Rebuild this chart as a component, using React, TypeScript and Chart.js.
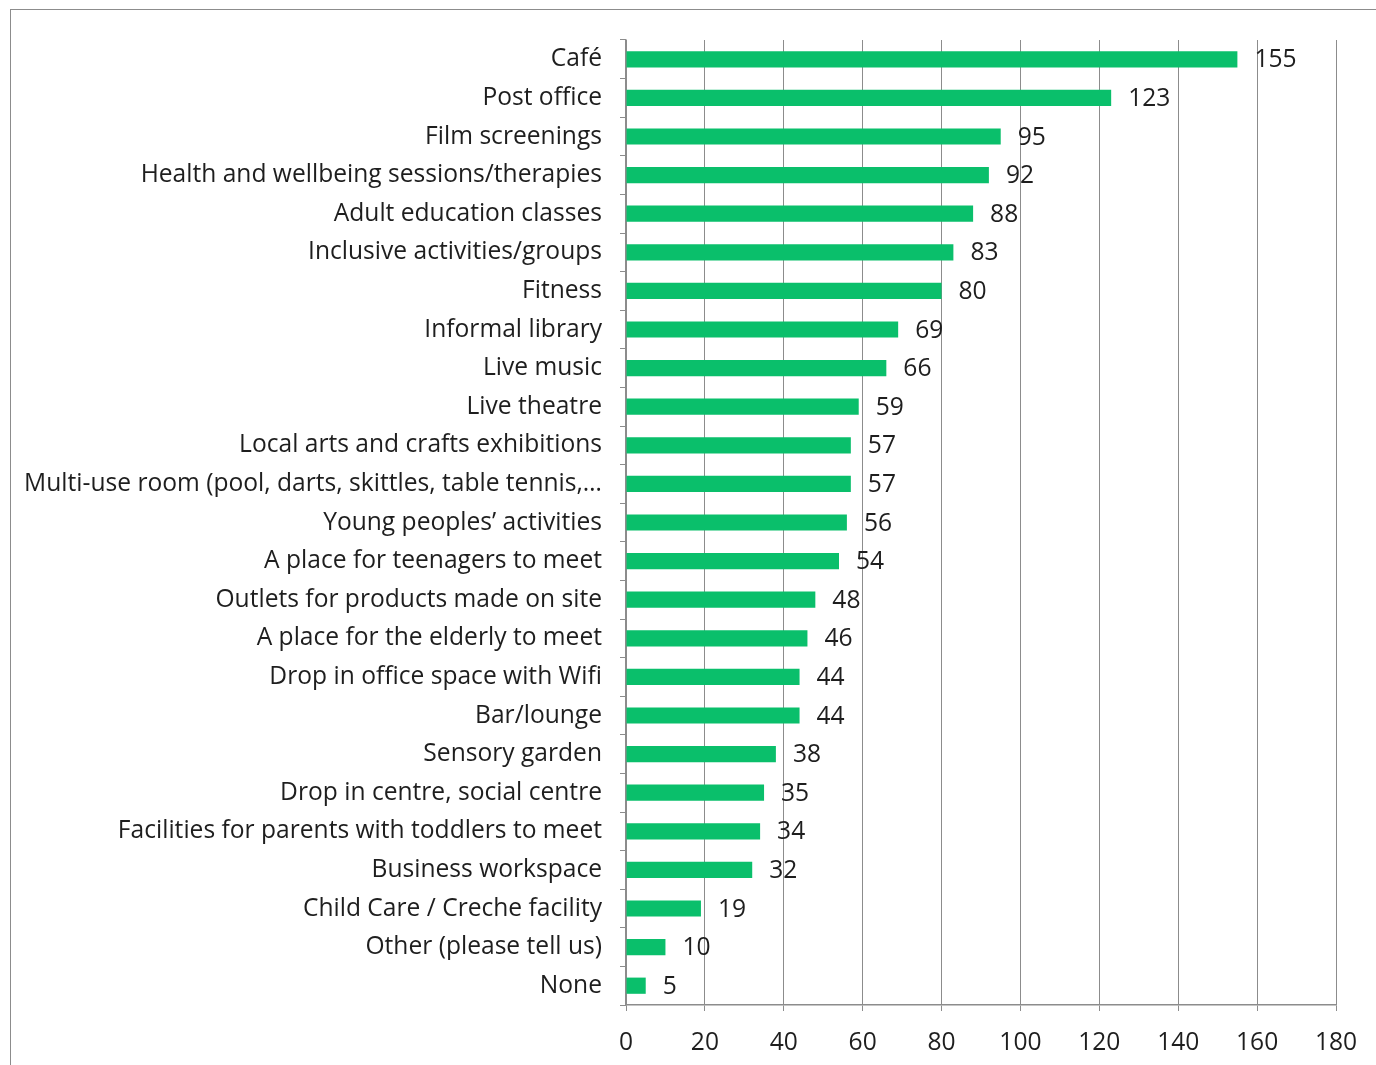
import React, { useEffect, useRef } from "react";
import { Chart, registerables } from "chart.js";

Chart.register(...registerables);

const categories = [
  "Café",
  "Post office",
  "Film screenings",
  "Health and wellbeing sessions/therapies",
  "Adult education classes",
  "Inclusive activities/groups",
  "Fitness",
  "Informal library",
  "Live music",
  "Live theatre",
  "Local arts and crafts exhibitions",
  "Multi-use room (pool, darts, skittles, table tennis,…",
  "Young peoples’ activities",
  "A place for teenagers to meet",
  "Outlets for products made on site",
  "A place for the elderly to meet",
  "Drop in office space with Wifi",
  "Bar/lounge",
  "Sensory garden",
  "Drop in centre, social centre",
  "Facilities for parents with toddlers to meet",
  "Business workspace",
  "Child Care / Creche facility",
  "Other (please tell us)",
  "None",
];

const values = [155, 123, 95, 92, 88, 83, 80, 69, 66, 59, 57, 57, 56, 54, 48, 46, 44, 44, 38, 35, 34, 32, 19, 10, 5];

const xMin = 0;
const xMax = 180;
const xStep = 20;

const FONT = "'Open Sans'";
const FONT_SIZE = 24.6;
const TEXT = "#1e1e1e";
const GRID = "#8c8c8c";
const GREEN = "#0abf6b";

const valueLabels = {
  id: "valueLabels",
  afterDatasetsDraw(chart: any) {
    const ctx = chart.ctx;
    const meta = chart.getDatasetMeta(0);
    ctx.save();
    ctx.font = `${FONT_SIZE}px ${FONT}`;
    ctx.fillStyle = TEXT;
    ctx.textAlign = "left";
    ctx.textBaseline = "middle";
    meta.data.forEach((el: any, i: number) => {
      ctx.fillText(String(values[i]), el.x + 17, el.y + 1);
    });
    ctx.restore();
  },
};

export default function App() {
  const ref = useRef<HTMLCanvasElement | null>(null);
  useEffect(() => {
    if (!ref.current) return;
    const chart = new Chart(ref.current, {
      type: "bar",
      data: {
        labels: categories,
        datasets: [
          {
            data: values,
            backgroundColor: GREEN,
            borderWidth: 0,
            categoryPercentage: 0.42,
            barPercentage: 1,
          },
        ],
      },
      options: {
        indexAxis: "y",
        animation: false,
        responsive: false,
        devicePixelRatio: 1,
        layout: { padding: { left: 0, right: 40, top: 40, bottom: 0 } },
        plugins: {
          legend: { display: false },
          tooltip: { enabled: false },
        },
        scales: {
          x: {
            min: xMin,
            max: xMax,
            ticks: {
              stepSize: xStep,
              color: TEXT,
              font: { family: FONT, size: FONT_SIZE },
              padding: 17,
              maxRotation: 0,
            },
            grid: {
              color: GRID,
              lineWidth: 1,
              tickLength: 6,
              tickColor: GRID,
            },
            border: { color: GRID, width: 1.5 },
            afterFit: (s: any) => {
              s.height = 60;
            },
          },
          y: {
            ticks: {
              color: TEXT,
              font: { family: FONT, size: FONT_SIZE },
              padding: 18,
              autoSkip: false,
            },
            grid: {
              offset: true,
              drawOnChartArea: false,
              tickLength: 6,
              tickColor: GRID,
            },
            border: { color: GRID, width: 1.5 },
            afterFit: (s: any) => {
              s.width = 626;
            },
          },
        },
      },
      plugins: [valueLabels],
    });
    return () => chart.destroy();
  }, []);

  return (
    <div style={{ position: "fixed", left: 0, top: 0, width: 1376, height: 1065, background: "#fff" }}>
      <div
        style={{
          position: "absolute",
          left: 10,
          top: 9,
          right: -5,
          bottom: -5,
          borderTop: "1.5px solid #8c8c8c",
          borderLeft: "1.5px solid #8c8c8c",
        }}
      />
      <canvas ref={ref} width={1376} height={1065} style={{ position: "absolute", left: 0, top: 0 }} />
    </div>
  );
}
